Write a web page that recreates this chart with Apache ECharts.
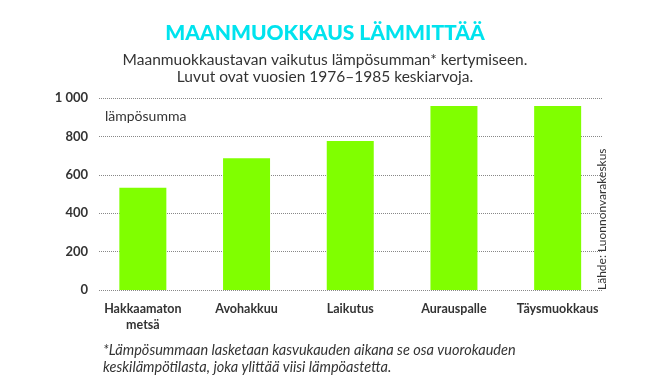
<!DOCTYPE html>
<html><head><meta charset="utf-8">
<script src="https://cdn.jsdelivr.net/npm/echarts@6/dist/echarts.min.js"></script>
<style>html,body{margin:0;padding:0;background:#fff}#c{width:650px;height:389px}</style>
</head><body><div id="c"></div>
<script>
const categories = ['Hakkaamaton\nmetsä', 'Avohakkuu', 'Laikutus', 'Aurauspalle', 'Täysmuokkaus'];
const values = [533, 686, 776, 958, 958];
const yTicks = [0, 200, 400, 600, 800, 1000];
const FONT = 'Lato';
const chart = echarts.init(document.getElementById('c'));
chart.setOption({
  animation: false,
  textStyle: { fontFamily: FONT },
  title: [
    { text: 'MAANMUOKKAUS LÄMMITTÄÄ', left: 'center', top: 18,
      textStyle: { color: '#00E3EE', fontSize: 21, fontWeight: 900, fontFamily: FONT } },
    { text: 'lämpösumma', left: 100, top: 104,
      textStyle: { color: '#333', fontSize: 14, fontWeight: 'normal', fontFamily: FONT } }
  ],
  graphic: [
    { type: 'text', x: 325, y: 51,
      style: { text: 'Maanmuokkaustavan vaikutus lämpösumman* kertymiseen.\nLuvut ovat vuosien 1976–1985 keskiarvoja.',
        fill: '#333', font: '15.5px ' + FONT, lineHeight: 17, textAlign: 'center' } },
    { type: 'text', x: 103, y: 342,
      style: { text: '*Lämpösummaan lasketaan kasvukauden aikana se osa vuorokauden\nkeskilämpötilasta, joka ylittää viisi lämpöastetta.',
        fill: '#333', font: 'italic 14.5px ' + FONT, lineHeight: 17, textAlign: 'left' } },
    { type: 'text', x: 608, y: 290, rotation: Math.PI / 2,
      style: { text: 'Lähde: Luonnonvarakeskus', fill: '#333', font: '12px ' + FONT, textAlign: 'left', textVerticalAlign: 'bottom' } }
  ],
  grid: [
    { left: 91, right: 40.5, top: 98, bottom: 99 },
    { left: 99, right: 48, top: 98, bottom: 99 }
  ],
  xAxis: [
    { type: 'category', gridIndex: 0, data: categories,
      axisLine: { show: false }, axisTick: { show: false },
      axisLabel: { interval: 0, color: '#333', fontWeight: 'bold', fontSize: 12.5, margin: 11, lineHeight: 16, fontFamily: FONT } },
    { type: 'value', gridIndex: 1, show: false }
  ],
  yAxis: [
    { type: 'value', gridIndex: 0, min: 0, max: 1000, interval: 200, show: false },
    { type: 'value', gridIndex: 1, min: 0, max: 1000, interval: 200,
      axisLine: { show: false }, axisTick: { show: false },
      axisLabel: { color: '#333', fontWeight: 'bold', fontSize: 13, margin: 11, fontFamily: FONT,
        formatter: v => yTicks.includes(v) ? (v >= 1000 ? String(v).replace(/(\d)(\d{3})$/, '$1 $2') : String(v)) : '' },
      splitLine: { lineStyle: { color: '#888', type: [1, 1], width: 1 } } }
  ],
  series: [{
    type: 'bar', xAxisIndex: 0, yAxisIndex: 0, data: values, barWidth: 47,
    itemStyle: { color: '#80FF00' }
  }]
});
</script></body></html>
